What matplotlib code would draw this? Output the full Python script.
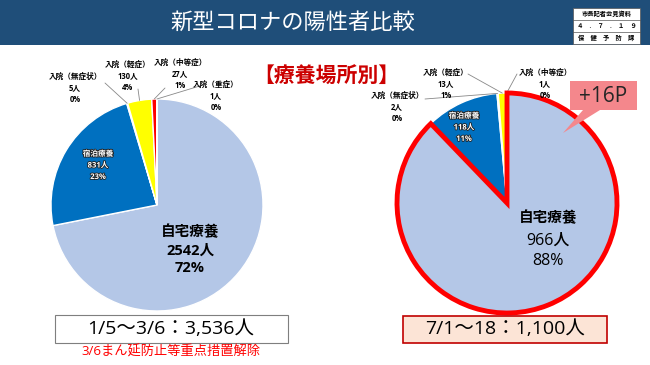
import numpy as np
import matplotlib
matplotlib.use('Agg')
import matplotlib.pyplot as plt
import matplotlib.patheffects as pe
from matplotlib.patches import Rectangle, Polygon

plt.rcParams['font.family'] = ['Open Sans', 'Noto Sans CJK JP', 'DejaVu Sans']

# データ
cats = ['自宅療養', '宿泊療養', '入院（無症状）', '入院（軽症）', '入院（中等症）', '入院（重症）']
left_vals = [2542, 831, 5, 130, 27, 1]
left_pct = [72, 23, 0, 4, 1, 0]
right_cats = cats[:5]
right_vals = [966, 118, 2, 13, 1]
right_pct = [88, 11, 0, 1, 0]
colors = ['#B4C7E7', '#0070C0', '#A5A5A5', '#FFFF00', '#FF0000', '#C00000']

W, H = 650, 365
fig = plt.figure(figsize=(6.5, 3.65), dpi=100)
fig.patch.set_facecolor('white')


def box(x0, y0, w, h):
    # 画像座標(左上原点) -> figure比率
    return [x0 / W, (H - y0 - h) / H, w / W, h / H]


def px(x, y):
    return (x, H - y)


# タイトルバー
fig.patches.append(Rectangle((0, 1 - 45 / H), 1, 45 / H, transform=fig.transFigure,
                             facecolor='#1F4E79', edgecolor='none', zorder=0))
fig.text(293 / W, 1 - 23 / H, '新型コロナの陽性者比較', color='white', fontsize=16,
         ha='center', va='center')

# 資料スタンプ
sx, sy, sw, sh = 573, 8, 67, 36
fig.patches.append(Rectangle((sx / W, (H - sy - sh) / H), sw / W, sh / H,
                             transform=fig.transFigure, facecolor='white',
                             edgecolor='#555555', lw=0.5, zorder=1))
for i, t in enumerate(['市長記者会見資料', '４　.　７　.　１　９', '保　健　予　防　課']):
    if i > 0:
        fig.lines.append(plt.Line2D([sx / W, (sx + sw) / W],
                                    [(H - sy - 12 * i) / H] * 2,
                                    transform=fig.transFigure, color='#555555', lw=0.5))
    fig.text((sx + sw / 2) / W, (H - sy - 6 - 12 * i) / H, t, fontsize=4.5,
             ha='center', va='center', color='black', fontweight='bold', zorder=2)

# サブタイトル
fig.text(326 / W, 1 - 77 / H, '【療養場所別】', color='#CC0000', fontsize=15,
         fontweight='bold', ha='center', va='center')


def draw_pie(rect, vals, wc, edge_lw=1.0):
    ax = fig.add_axes(rect)
    wedges, _ = ax.pie(vals, colors=wc, startangle=90, counterclock=False,
                       radius=1, wedgeprops=dict(edgecolor='white', linewidth=edge_lw))
    ax.set_xlim(-1, 1)
    ax.set_ylim(-1, 1)
    ax.set_aspect('equal')
    ax.axis('off')
    return ax, wedges


def edge_point(w, r=1.0):
    a = np.deg2rad((w.theta1 + w.theta2) / 2)
    return r * np.cos(a), r * np.sin(a)


def leader(ax, w, xy_px, r=1.0):
    ax.annotate('', xy=edge_point(w, r), xycoords='data',
                xytext=px(*xy_px), textcoords='figure pixels',
                arrowprops=dict(arrowstyle='-', color='#888888', lw=0.6,
                                shrinkA=0, shrinkB=0), annotation_clip=False)


def label(x, y, lines, size=5.5, color='black', weight='bold', stroke=False):
    t = fig.text(x / W, 1 - y / H, '\n'.join(lines), fontsize=size, color=color,
                 fontweight=weight, ha='center', va='center', linespacing=1.35)
    if stroke:
        t.set_path_effects([pe.withStroke(linewidth=1.2, foreground='#222222')])
    return t


# 左の円グラフ
axl, wl = draw_pie(box(51, 99, 212, 212), left_vals, colors)
label(190, 250, [cats[0], f'{left_vals[0]}人', f'{left_pct[0]}%'], size=10.5)
label(98, 165, [cats[1], f'{left_vals[1]}人', f'{left_pct[1]}%'], size=5.5,
      color='white', stroke=True)
label(75, 88, [cats[2], f'{left_vals[2]}人', f'{left_pct[2]}%'])
label(128, 76, [cats[3], f'{left_vals[3]}人', f'{left_pct[3]}%'])
label(180, 74, [cats[4], f'{left_vals[4]}人', f'{left_pct[4]}%'])
label(216, 96, [cats[5], f'{left_vals[5]}人', f'{left_pct[5]}%'])
leader(axl, wl[2], (105, 83))
leader(axl, wl[3], (138, 89))
leader(axl, wl[4], (165, 88))
leader(axl, wl[5], (203, 85))

# 右の円グラフ
axr, wr = draw_pie(box(397, 93, 220, 220), right_vals, colors[:5])
home = wr[0]
home.set_edgecolor('#FF0000')
home.set_linewidth(3.5)
home.set_zorder(5)
label(548, 218, [right_cats[0]], size=10.5)
label(548, 251, [f'{right_vals[0]}人', f'{right_pct[0]}%'], size=11.5, weight='medium')
label(464, 127, [right_cats[1], f'{right_vals[1]}人', f'{right_pct[1]}%'], size=5.5,
      color='white', stroke=True)
label(397, 107, [right_cats[2], f'{right_vals[2]}人', f'{right_pct[2]}%'])
label(446, 84, [right_cats[3], f'{right_vals[3]}人', f'{right_pct[3]}%'])
label(545, 84, [right_cats[4], f'{right_vals[4]}人', f'{right_pct[4]}%'])
leader(axr, wr[2], (425, 99))
leader(axr, wr[3], (468, 74))
leader(axr, wr[4], (517, 74))

# +16P 吹き出し
call = [(570, 81), (637, 81), (637, 110), (600, 110), (563, 133), (583, 110), (570, 110)]
fig.patches.append(Polygon([(x / W, 1 - y / H) for x, y in call], closed=True,
                           transform=fig.transFigure, facecolor='#F4878C',
                           edgecolor='none', zorder=6))
fig.text(603 / W, 1 - 96 / H, '+16P', fontsize=15, color='#262626',
         ha='center', va='center', zorder=7)

# 期間ボックス
fig.patches.append(Rectangle((55 / W, 1 - 343 / H), 233 / W, 28 / H,
                             transform=fig.transFigure, facecolor='white',
                             edgecolor='#7F7F7F', lw=0.8))
fig.text(171 / W, 1 - 329 / H, '1/5～3/6：3,536人', fontsize=14, ha='center',
         va='center', color='black')
fig.text(171 / W, 1 - 352 / H, '3/6まん延防止等重点措置解除', fontsize=9.5,
         ha='center', va='center', color='#FF0000')

fig.patches.append(Rectangle((403 / W, 1 - 343 / H), 204 / W, 27 / H,
                             transform=fig.transFigure, facecolor='#FCE4D6',
                             edgecolor='#C00000', lw=1.2))
fig.text(505 / W, 1 - 329 / H, '7/1～18：1,100人', fontsize=14, ha='center',
         va='center', color='black')

fig.savefig('out.png', dpi=100)
